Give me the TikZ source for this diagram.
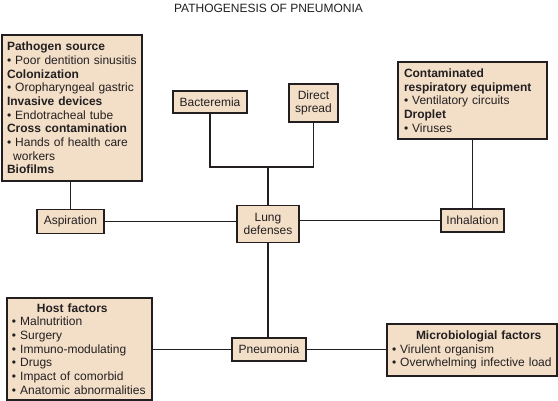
\documentclass[tikz,border=0pt]{standalone}
\usepackage{fontspec}
\setmainfont{Liberation Sans}
\definecolor{beige}{RGB}{243,223,200}
\definecolor{ink}{RGB}{35,31,32}
\begin{document}
\begin{tikzpicture}[x=1pt,y=-1pt,
  txt/.style={font=\fontsize{12pt}{13.7pt}\selectfont, text=ink},
  box/.style={txt, draw=ink, line width=1.7pt, fill=beige, inner sep=0pt},
  listbox/.style={box, align=left},
  smallbox/.style={box, align=center},
  link/.style={draw=ink, line width=1.5pt}]
\useasboundingbox[fill=white] (0,0) rectangle (558,401);

\node[txt] (title) at (268.5,8.5) {PATHOGENESIS OF PNEUMONIA};

\node[listbox, minimum width=140pt, minimum height=146pt, text width=130pt] (src) at (72,108) {%
\textbf{Pathogen source}\\
• Poor dentition sinusitis\\
\textbf{Colonization}\\
• Oropharyngeal gastric\\
\textbf{Invasive devices}\\
• Endotracheal tube\\
\textbf{Cross contamination}\\
• Hands of health care\\
\phantom{•}\,workers\\
\textbf{Biofilms}};

\node[listbox, minimum width=149pt, minimum height=77pt, text width=137pt] (equip) at (472.5,100.5) {%
\textbf{Contaminated}\\
\textbf{respiratory equipment}\\
• Ventilatory circuits\\
\textbf{Droplet}\\
• Viruses};

\node[smallbox, minimum width=74pt, minimum height=22pt] (bact) at (210,102) {Bacteremia};
\node[smallbox, minimum width=49pt, minimum height=38pt] (direct) at (313.5,103) {Direct\\spread};

\node[smallbox, minimum width=67pt, minimum height=24pt] (asp) at (70.5,221.5) {Aspiration};
\node[smallbox, minimum width=62pt, minimum height=37pt] (lung) at (268,224) {Lung\\defenses};
\node[smallbox, minimum width=63pt, minimum height=23pt] (inh) at (472.5,220.5) {Inhalation};

\node[smallbox, minimum width=74pt, minimum height=23pt] (pneu) at (269,349.5) {Pneumonia};

\node[listbox, minimum width=145pt, minimum height=102pt, text width=135pt] (host) at (79.5,349) {%
\hspace*{25pt}\textbf{Host factors}\\
• Malnutrition\\
• Surgery\\
• Immuno-modulating\\
• Drugs\\
• Impact of comorbid\\
\mbox{• Anatomic abnormalities}};

\node[listbox, minimum width=170pt, minimum height=52pt, text width=160pt] (micro) at (472,350) {%
\hspace*{24pt}\textbf{Microbiologial factors}\\
• Virulent organism\\
\mbox{• Overwhelming infective load}};

\coordinate (j) at (268,167);

\path[link] (bact.south) |- (j) -| (direct.south);
\path[link] (lung.north) -- (lung.north |- j);
\path[link] (asp.north) -- (asp.north |- src.south);
\path[link] (inh.north) -- (inh.north |- equip.south);
\path[link] (asp.east) -- (asp.east -| lung.west);
\path[link] (lung.east |- inh.west) -- (inh.west);
\path[link] (lung.south) -- (lung.south |- pneu.north);
\path[link] (host.east |- pneu.west) -- (pneu.west);
\path[link] (pneu.east) -- (pneu.east -| micro.west);
\end{tikzpicture}
\end{document}
